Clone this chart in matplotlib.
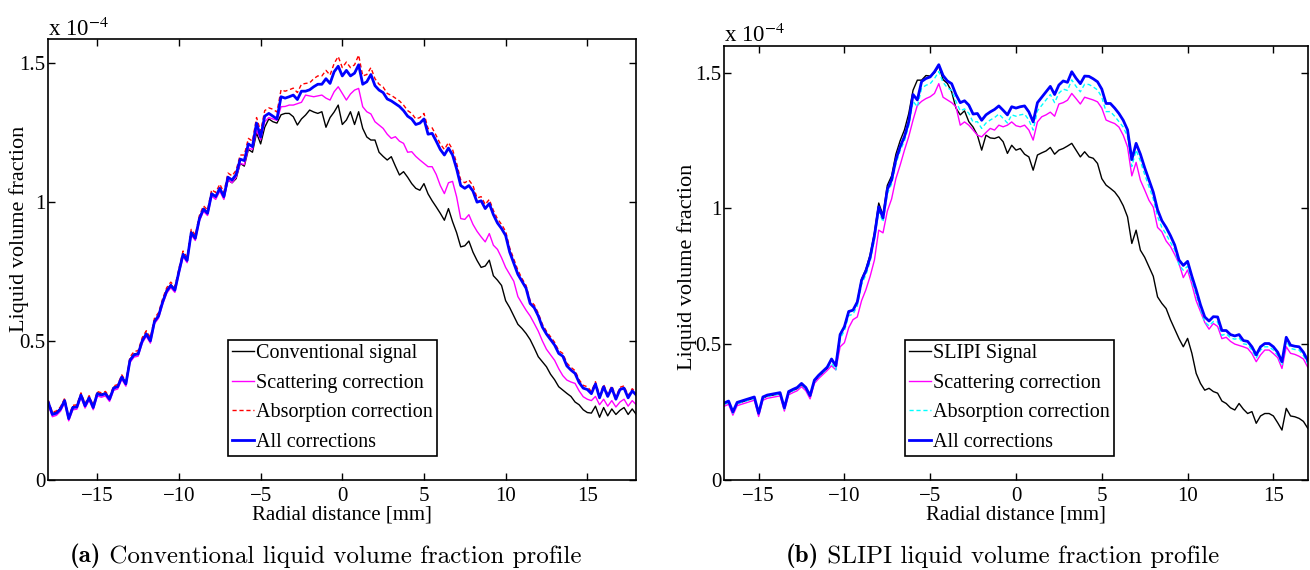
import numpy as np
import matplotlib
matplotlib.use("Agg")
import matplotlib.pyplot as plt

plt.rcParams['font.family'] = ['Liberation Serif', 'DejaVu Serif']
plt.rcParams['mathtext.fontset'] = 'stix'

# values in units of 1e-4, sampled every 0.25 mm
# (a) conventional, -18 ... 18 mm
conventional = [0.281, 0.238, 0.243, 0.258, 0.288, 0.223, 0.263, 0.265, 0.308, 0.269,
                0.298, 0.263, 0.313, 0.308, 0.313, 0.293, 0.333, 0.338, 0.373, 0.348,
                0.433, 0.453, 0.456, 0.503, 0.528, 0.503, 0.573, 0.593, 0.643,
                0.683, 0.703, 0.686, 0.753, 0.815, 0.793, 0.893, 0.873, 0.943, 0.978, 0.963, 1.033,
                1.02, 1.05, 1.015, 1.08, 1.07, 1.085, 1.14, 1.13,
                1.19, 1.18, 1.25, 1.21, 1.27, 1.30, 1.29, 1.285,
                1.315, 1.32, 1.32, 1.308, 1.278, 1.30, 1.314, 1.332,
                1.325, 1.32, 1.326, 1.27, 1.305, 1.325, 1.35, 1.28,
                1.296, 1.326, 1.28, 1.326, 1.266, 1.235, 1.224, 1.224,
                1.18, 1.165, 1.152, 1.164, 1.13, 1.098, 1.11, 1.09,
                1.067, 1.05, 1.043, 1.067, 1.03, 1.005, 0.983, 0.96,
                0.935, 0.977, 0.93, 0.89, 0.839, 0.843, 0.86, 0.82,
                0.79, 0.765, 0.77, 0.791, 0.735, 0.719, 0.70, 0.645,
                0.62, 0.59, 0.56, 0.545, 0.527, 0.505, 0.475, 0.443,
                0.425, 0.407, 0.38, 0.36, 0.335, 0.323, 0.311, 0.30,
                0.28, 0.27, 0.252, 0.242,
                0.24, 0.265, 0.225, 0.26, 0.23, 0.255, 0.235, 0.25, 0.26, 0.235, 0.255, 0.235]
scatter_a = [0.27, 0.227, 0.232, 0.247, 0.277, 0.212, 0.252, 0.254, 0.297, 0.258,
             0.287, 0.252, 0.302, 0.297, 0.302, 0.282, 0.322, 0.327, 0.362, 0.337,
             0.422, 0.442, 0.445, 0.492, 0.517, 0.492, 0.562, 0.582, 0.632,
             0.672, 0.692, 0.675, 0.742, 0.804, 0.782, 0.882, 0.862, 0.932, 0.967, 0.952, 1.022,
             1.01, 1.04, 1.01, 1.08, 1.07, 1.09, 1.14, 1.135,
             1.195, 1.19, 1.26, 1.225, 1.29, 1.305, 1.30, 1.295,
             1.344, 1.345, 1.35, 1.35, 1.355, 1.36, 1.386, 1.383,
             1.38, 1.383, 1.386, 1.375, 1.368, 1.398, 1.416, 1.392,
             1.368, 1.39, 1.404, 1.41, 1.344, 1.326, 1.318, 1.29,
             1.278, 1.266, 1.245, 1.23, 1.236, 1.22, 1.212, 1.18,
             1.182, 1.165, 1.152, 1.14, 1.128, 1.128, 1.10, 1.06,
             1.031, 1.07, 1.075, 1.019, 0.941, 0.938, 0.955, 0.92,
             0.895, 0.875, 0.857, 0.887, 0.845, 0.83, 0.80, 0.765,
             0.74, 0.715, 0.66, 0.635, 0.611, 0.59, 0.563, 0.535,
             0.50, 0.47, 0.45, 0.43, 0.40, 0.375, 0.359, 0.352,
             0.347, 0.32, 0.299, 0.29,
             0.285, 0.30, 0.27, 0.29, 0.265, 0.285, 0.262, 0.28, 0.29, 0.265, 0.285, 0.27]
absorb_a = [0.286, 0.243, 0.248, 0.263, 0.293, 0.228, 0.268, 0.27, 0.313, 0.274,
            0.303, 0.268, 0.318, 0.313, 0.318, 0.298, 0.338, 0.343, 0.378, 0.353,
            0.442, 0.462, 0.465, 0.512, 0.537, 0.512, 0.582, 0.602, 0.652,
            0.692, 0.712, 0.695, 0.762, 0.824, 0.802, 0.902, 0.882, 0.952, 0.987, 0.972, 1.045,
            1.035, 1.065, 1.035, 1.105, 1.095, 1.115, 1.17, 1.17,
            1.23, 1.22, 1.305, 1.255, 1.33, 1.34, 1.335, 1.325,
            1.405, 1.40, 1.405, 1.411, 1.395, 1.425, 1.428, 1.43,
            1.445, 1.455, 1.455, 1.475, 1.458, 1.50, 1.525, 1.485,
            1.505, 1.485, 1.495, 1.53, 1.455, 1.46, 1.485, 1.445,
            1.425, 1.415, 1.392, 1.385, 1.375, 1.365, 1.35, 1.33,
            1.32, 1.30, 1.305, 1.32, 1.265, 1.268, 1.24, 1.21,
            1.19, 1.215, 1.19, 1.14, 1.08, 1.07, 1.08, 1.06,
            1.015, 1.02, 0.992, 1.01, 0.97, 0.94, 0.92, 0.895,
            0.835, 0.795, 0.755, 0.725, 0.70, 0.645, 0.63, 0.60,
            0.56, 0.535, 0.515, 0.495, 0.465, 0.455, 0.42, 0.405,
            0.393, 0.36, 0.34, 0.335,
            0.318, 0.353, 0.303, 0.343, 0.308, 0.338, 0.298, 0.333, 0.338, 0.303, 0.328, 0.313]
allcorr_a = [0.278, 0.235, 0.24, 0.255, 0.285, 0.22, 0.26, 0.262, 0.305, 0.266,
             0.295, 0.26, 0.31, 0.305, 0.31, 0.29, 0.33, 0.335, 0.37, 0.345,
             0.43, 0.45, 0.453, 0.50, 0.525, 0.50, 0.57, 0.59, 0.64,
             0.68, 0.70, 0.683, 0.75, 0.812, 0.79, 0.89, 0.87, 0.94, 0.975, 0.96, 1.03,
             1.02, 1.05, 1.02, 1.09, 1.08, 1.10, 1.155, 1.15,
             1.21, 1.20, 1.285, 1.235, 1.31, 1.32, 1.31, 1.30,
             1.38, 1.375, 1.38, 1.386, 1.37, 1.40, 1.40, 1.405,
             1.416, 1.425, 1.425, 1.445, 1.428, 1.47, 1.49, 1.455,
             1.475, 1.455, 1.465, 1.495, 1.425, 1.434, 1.46, 1.42,
             1.404, 1.395, 1.372, 1.365, 1.355, 1.345, 1.33, 1.31,
             1.30, 1.28, 1.285, 1.30, 1.245, 1.248, 1.22, 1.19,
             1.17, 1.195, 1.17, 1.12, 1.06, 1.05, 1.06, 1.04,
             1.00, 1.005, 0.977, 0.995, 0.955, 0.925, 0.905, 0.88,
             0.82, 0.78, 0.74, 0.715, 0.69, 0.635, 0.62, 0.59,
             0.55, 0.525, 0.505, 0.485, 0.455, 0.445, 0.41, 0.395,
             0.383, 0.35, 0.33, 0.325,
             0.31, 0.345, 0.295, 0.335, 0.30, 0.33, 0.29, 0.325, 0.33, 0.295, 0.32, 0.305]

# (b) SLIPI, -17 ... 17 mm
slipi = [0.279, 0.286, 0.246, 0.281, 0.286, 0.291, 0.296, 0.301, 0.241, 0.301,
         0.308, 0.311, 0.314, 0.317, 0.261, 0.321, 0.329, 0.336, 0.351, 0.336,
         0.306, 0.363, 0.381, 0.396, 0.411,
         0.445, 0.42, 0.535, 0.565, 0.62, 0.625, 0.655, 0.74, 0.775, 0.83,
         0.91, 1.02, 0.975, 1.085, 1.12, 1.20, 1.25, 1.29, 1.35,
         1.436, 1.473, 1.473, 1.49, 1.488, 1.50, 1.525, 1.475, 1.461, 1.43, 1.37, 1.345, 1.36,
         1.32, 1.30, 1.27, 1.215, 1.27, 1.26, 1.258, 1.264, 1.246, 1.203, 1.233, 1.215,
         1.221, 1.20, 1.19, 1.141, 1.197, 1.205, 1.212, 1.225, 1.20, 1.215, 1.221, 1.23,
         1.24, 1.215, 1.19, 1.209, 1.19, 1.185, 1.166, 1.11, 1.086, 1.074, 1.061, 1.04,
         1.01, 0.969, 0.871, 0.92, 0.846, 0.82, 0.785, 0.75, 0.674, 0.65, 0.631, 0.59,
         0.555, 0.52, 0.49, 0.521, 0.466, 0.392, 0.355, 0.33, 0.337, 0.325, 0.319, 0.29,
         0.281, 0.265, 0.257, 0.281, 0.26, 0.244, 0.251, 0.208, 0.235, 0.244, 0.244, 0.235,
         0.21, 0.183, 0.263, 0.235, 0.232, 0.226, 0.215, 0.19]
scatter_b = [0.271, 0.278, 0.238, 0.273, 0.278, 0.283, 0.288, 0.293, 0.233, 0.293,
             0.30, 0.303, 0.306, 0.309, 0.253, 0.313, 0.321, 0.328, 0.343, 0.328,
             0.298, 0.355, 0.373, 0.388, 0.403,
             0.42, 0.405, 0.49, 0.505, 0.56, 0.59, 0.60, 0.66, 0.70, 0.75,
             0.81, 0.92, 0.91, 0.99, 1.035, 1.11, 1.16, 1.215, 1.265,
             1.326, 1.38, 1.395, 1.405, 1.412, 1.424, 1.46, 1.41, 1.40, 1.39, 1.375, 1.307, 1.319,
             1.307, 1.289, 1.27, 1.264, 1.28, 1.295, 1.289, 1.307, 1.301, 1.307, 1.319, 1.305,
             1.301, 1.307, 1.289, 1.252, 1.319, 1.338, 1.345, 1.355, 1.34, 1.385, 1.39, 1.399,
             1.424, 1.405, 1.385, 1.41, 1.405, 1.40, 1.393, 1.37, 1.326, 1.319, 1.313, 1.30,
             1.27, 1.227, 1.12, 1.17, 1.104, 1.068, 1.03, 1.005, 0.93, 0.914, 0.88, 0.86,
             0.83, 0.797, 0.745, 0.773, 0.72, 0.66, 0.62, 0.58, 0.555, 0.576, 0.565, 0.52,
             0.525, 0.51, 0.50, 0.495, 0.49, 0.484, 0.465, 0.435, 0.46, 0.478, 0.478, 0.465,
             0.45, 0.41, 0.49, 0.466, 0.462, 0.455, 0.445, 0.415]
absorb_b = [0.278, 0.285, 0.245, 0.28, 0.285, 0.29, 0.295, 0.30, 0.24, 0.30,
            0.307, 0.31, 0.313, 0.316, 0.26, 0.32, 0.328, 0.335, 0.35, 0.335,
            0.305, 0.362, 0.38, 0.395, 0.41,
            0.43, 0.405, 0.52, 0.549, 0.605, 0.61, 0.64, 0.72, 0.755, 0.805,
            0.885, 0.99, 0.95, 1.055, 1.09, 1.165, 1.213, 1.25, 1.305,
            1.395, 1.375, 1.443, 1.454, 1.46, 1.479, 1.505, 1.465, 1.445, 1.435, 1.395, 1.36, 1.367,
            1.351, 1.318, 1.32, 1.295, 1.315, 1.326, 1.335, 1.348, 1.332, 1.315, 1.345, 1.34,
            1.345, 1.348, 1.326, 1.289, 1.36, 1.38, 1.40, 1.42, 1.39, 1.425, 1.44, 1.435,
            1.474, 1.45, 1.43, 1.458, 1.457, 1.448, 1.437, 1.41, 1.357, 1.357, 1.34, 1.32,
            1.30, 1.265, 1.155, 1.215, 1.175, 1.125, 1.08, 1.035, 0.97, 0.93, 0.905, 0.875,
            0.847, 0.792, 0.772, 0.787, 0.732, 0.682, 0.627, 0.582, 0.567, 0.583, 0.582, 0.532,
            0.538, 0.523, 0.518, 0.523, 0.501, 0.498, 0.478, 0.448, 0.478, 0.49, 0.49, 0.478,
            0.458, 0.423, 0.513, 0.484, 0.48, 0.478, 0.458, 0.428]
allcorr_b = [0.283, 0.29, 0.25, 0.285, 0.29, 0.295, 0.30, 0.305, 0.245, 0.305,
             0.312, 0.315, 0.318, 0.321, 0.265, 0.325, 0.333, 0.34, 0.355, 0.34,
             0.31, 0.367, 0.385, 0.40, 0.415,
             0.445, 0.42, 0.535, 0.564, 0.62, 0.625, 0.655, 0.735, 0.77, 0.82,
             0.90, 1.006, 0.965, 1.07, 1.105, 1.18, 1.228, 1.265, 1.32,
             1.42, 1.40, 1.468, 1.479, 1.485, 1.504, 1.53, 1.49, 1.47, 1.46, 1.42, 1.39, 1.397,
             1.381, 1.348, 1.35, 1.325, 1.345, 1.356, 1.365, 1.378, 1.362, 1.345, 1.375, 1.37,
             1.375, 1.378, 1.356, 1.319, 1.39, 1.41, 1.43, 1.45, 1.42, 1.455, 1.47, 1.465,
             1.504, 1.48, 1.46, 1.488, 1.487, 1.478, 1.467, 1.44, 1.387, 1.387, 1.37, 1.35,
             1.325, 1.29, 1.18, 1.24, 1.20, 1.15, 1.105, 1.06, 0.995, 0.955, 0.93, 0.90,
             0.865, 0.81, 0.79, 0.805, 0.75, 0.70, 0.645, 0.60, 0.585, 0.601, 0.60, 0.55,
             0.55, 0.535, 0.53, 0.535, 0.513, 0.51, 0.49, 0.46, 0.49, 0.502, 0.502, 0.49,
             0.47, 0.435, 0.525, 0.496, 0.492, 0.49, 0.47, 0.44]

W, H = 1310, 570
fig = plt.figure(figsize=(W / 100, H / 100), dpi=100)
ax1 = fig.add_axes([48.3 / W, 1 - 479.7 / H, 588 / W, 440.4 / H])
ax2 = fig.add_axes([724.3 / W, 1 - 479.7 / H, 583.4 / W, 434 / H])


def style(ax, xmax, ymax, ylab_x, ylab_y):
    ax.set_xlim(-xmax, xmax)
    ax.set_ylim(0, ymax)
    ax.set_xticks([-15, -10, -5, 0, 5, 10, 15])
    ax.set_yticks([0, 0.5, 1, 1.5])
    ax.set_yticklabels(['0', '0.5', '1', '1.5'])
    ax.tick_params(direction='in', top=True, right=True, length=5, width=1,
                   labelsize=15)
    ax.tick_params(axis='x', pad=5)
    ax.tick_params(axis='y', pad=2)
    for s in ax.spines.values():
        s.set_linewidth(1.2)
    ax.set_xlabel('Radial distance [mm]', fontsize=15, labelpad=0)
    ax.set_ylabel('Liquid volume fraction', fontsize=16)
    ax.yaxis.set_label_coords(ylab_x, ylab_y)
    ax.text(0, 1.008, r'x 10$^{-4}$', transform=ax.transAxes, fontsize=16.5,
            ha='left', va='baseline')


def series(ax, xmax, values, **kw):
    ax.plot(np.linspace(-xmax, xmax, len(values)), values, **kw)


# (a) conventional
series(ax1, 18, conventional, color='k', lw=1.0, label='Conventional signal')
series(ax1, 18, scatter_a, color='#ff00ff', lw=1.0, label='Scattering correction')
series(ax1, 18, absorb_a, color='#ff0000', lw=1.0, ls=(0, (3, 2)), label='Absorption correction')
series(ax1, 18, allcorr_a, color='#0000ff', lw=2.0, label='All corrections')
style(ax1, 18, 1.587, -0.032, 0.57)

# (b) SLIPI
series(ax2, 17, slipi, color='k', lw=1.0, label='SLIPI Signal')
series(ax2, 17, scatter_b, color='#ff00ff', lw=1.0, label='Scattering correction')
series(ax2, 17, absorb_b, color='#00ffff', lw=1.0, ls=(0, (3, 2)), label='Absorption correction')
series(ax2, 17, allcorr_b, color='#0000ff', lw=2.0, label='All corrections')
style(ax2, 17, 1.6, -0.046, 0.49)

for ax, x0 in [(ax1, 228), (ax2, 905)]:
    leg = ax.legend(loc='upper left', bbox_to_anchor=(x0 / W, 1 - 340 / H),
                    bbox_transform=fig.transFigure, fontsize=14.5,
                    fancybox=False, framealpha=1, edgecolor='k',
                    borderpad=0.2, handlelength=1.1, handletextpad=0.1,
                    labelspacing=0.52, borderaxespad=0)
    leg.get_frame().set_linewidth(1.2)

# captions: bold tag followed by roman text
for ax, x0, tag, rest in [(ax1, 70, '(a)', ' Conventional liquid volume fraction profile'),
                          (ax2, 786, '(b)', ' SLIPI liquid volume fraction profile')]:
    t = fig.text(x0 / W, 1 - 562 / H, tag, fontfamily='cmb10', fontsize=18,
                 ha='left', va='baseline')
    ax.annotate(rest, xy=(1, 0), xycoords=t, ha='left', va='bottom',
                fontfamily='cmr10', fontsize=18, annotation_clip=False)

fig.savefig('out.png', dpi=100)
